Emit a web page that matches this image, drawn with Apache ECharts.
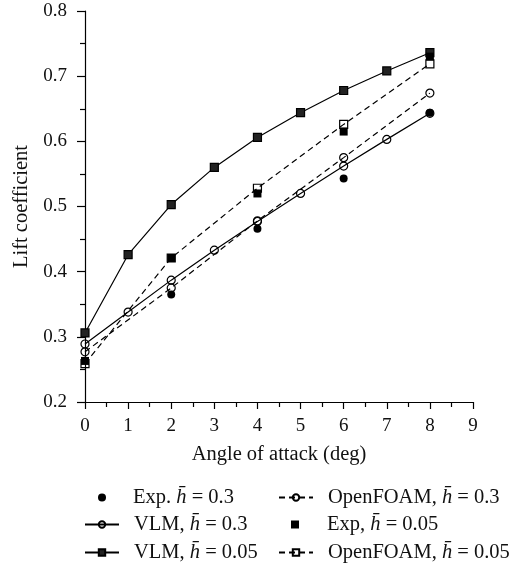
<!DOCTYPE html>
<html>
<head>
<meta charset="utf-8">
<script src="https://cdn.jsdelivr.net/npm/echarts@6/dist/echarts.min.js"></script>
<style>html,body{margin:0;padding:0;background:#fff}#c{width:525px;height:566px}</style>
</head>
<body>
<div id="c"></div>
<script>
// ---- data ----
var anglesAll = [0, 1, 2, 3, 4, 5, 6, 7, 8];
var anglesExp = [0, 2, 4, 6, 8];
var anglesExp03 = [2, 4, 6, 8];
var vlm03 = [0.289, 0.338, 0.387, 0.433, 0.477, 0.520, 0.562, 0.603, 0.643];
var vlm005 = [0.306, 0.426, 0.503, 0.560, 0.606, 0.644, 0.678, 0.708, 0.736];
var exp03 = [0.365, 0.466, 0.543, 0.644];
var exp005 = [0.263, 0.421, 0.520, 0.615, 0.730];
var of03 = [0.277, 0.375, 0.478, 0.575, 0.674];
var of005 = [0.259, 0.421, 0.528, 0.626, 0.719];
var xTicks = [0, 1, 2, 3, 4, 5, 6, 7, 8, 9];
var yTicks = [0.2, 0.3, 0.4, 0.5, 0.6, 0.7, 0.8];

var H = 'h\u0304';
var names = {
  exp03: 'Exp. ' + H + ' = 0.3',
  vlm03: 'VLM, ' + H + ' = 0.3',
  vlm005: 'VLM, ' + H + ' = 0.05',
  of03: 'OpenFOAM, ' + H + ' = 0.3',
  exp005: 'Exp, ' + H + ' = 0.05',
  of005: 'OpenFOAM, ' + H + ' = 0.05'
};
function pairs(xs, ys) { return xs.map(function (x, i) { return [x, ys[i]]; }); }

var FONT = 'Liberation Serif';
var chart = echarts.init(document.getElementById('c'), null, {renderer: 'canvas'});
var openStyle = {color: 'rgba(255,255,255,0)', borderColor: '#000', borderWidth: 1.2};

function legendItem(name, left, top, w, h, pad) {
  return {
    orient: 'horizontal', left: left, top: top, itemWidth: w, itemHeight: h,
    padding: 0, selectedMode: false,
    textStyle: {
      fontFamily: FONT, fontSize: 20.5, color: '#111', padding: [0, 0, 0, pad],
      rich: {
        t: {fontFamily: FONT, fontSize: 20.5, color: '#111'},
        i: {fontFamily: FONT, fontSize: 20.5, color: '#111', fontStyle: 'italic'}
      }
    },
    formatter: function (n) {
      var p = n.split(H);
      return '{t|' + p[0] + '}{i|' + H + '}{t|' + p[1] + '}';
    },
    data: [name]
  };
}
var rowTop = [487, 514, 542];

chart.setOption({
  animation: false,
  backgroundColor: '#fff',
  grid: {left: 85, top: 11, width: 388, height: 391, containLabel: false},
  xAxis: {
    type: 'value', min: 0, max: 9, interval: 1,
    name: 'Angle of attack (deg)', nameLocation: 'middle', nameGap: 42,
    nameTextStyle: {fontFamily: FONT, fontSize: 20.5, color: '#111'},
    axisLine: {show: true, onZero: false, lineStyle: {color: '#000', width: 1.2}},
    axisTick: {show: true, length: 7, lineStyle: {color: '#000', width: 1.2}},
    minorTick: {show: true, splitNumber: 2, length: 5, lineStyle: {color: '#000', width: 1.2}},
    splitLine: {show: false},
    axisLabel: {margin: 15, fontFamily: FONT, fontSize: 19, color: '#111',
      formatter: function (v) { return xTicks.indexOf(v) >= 0 ? String(v) : ''; }}
  },
  yAxis: {
    type: 'value', min: 0.2, max: 0.8, interval: 0.1,
    name: 'Lift coefficient', nameLocation: 'middle', nameGap: 48,
    nameTextStyle: {fontFamily: FONT, fontSize: 20.5, color: '#111'},
    axisLine: {show: true, onZero: false, lineStyle: {color: '#000', width: 1.2}},
    axisTick: {show: true, length: 8, lineStyle: {color: '#000', width: 1.2}},
    minorTick: {show: true, splitNumber: 2, length: 5, lineStyle: {color: '#000', width: 1.2}},
    splitLine: {show: false},
    axisLabel: {margin: 18, fontFamily: FONT, fontSize: 19, color: '#111',
      formatter: function (v) { return v.toFixed(1); }}
  },
  legend: [
    legendItem(names.exp03, 98, rowTop[0], 8, 8, 22),
    legendItem(names.vlm03, 84, rowTop[1], 34, 8, 10),
    legendItem(names.vlm005, 84, rowTop[2], 34, 8, 10),
    legendItem(names.of03, 278, rowTop[0], 34, 8, 10),
    legendItem(names.exp005, 291, rowTop[1], 8, 8, 23),
    legendItem(names.of005, 278, rowTop[2], 34, 8, 10)
  ],
  series: [
    {name: names.vlm005, type: 'line', data: pairs(anglesAll, vlm005), z: 3,
     symbol: 'rect', symbolSize: 8, lineStyle: {color: '#000', width: 1.2},
     itemStyle: {color: '#222', borderColor: '#000', borderWidth: 1.2}},
    {name: names.of005, type: 'line', data: pairs(anglesExp, of005), z: 3,
     symbol: 'rect', symbolSize: 8, lineStyle: {color: '#000', width: 1.2, type: [6, 4]},
     itemStyle: openStyle},
    {name: names.vlm03, type: 'line', data: pairs(anglesAll, vlm03), z: 3,
     symbol: 'circle', symbolSize: 8, lineStyle: {color: '#000', width: 1.2},
     itemStyle: openStyle},
    {name: names.of03, type: 'line', data: pairs(anglesExp, of03), z: 3,
     symbol: 'circle', symbolSize: 8, lineStyle: {color: '#000', width: 1.2, type: [6, 4]},
     itemStyle: openStyle},
    {name: names.exp005, type: 'scatter', data: pairs(anglesExp, exp005), z: 4,
     symbol: 'rect', symbolSize: 8, itemStyle: {color: '#000', opacity: 1}},
    {name: names.exp03, type: 'scatter', data: pairs(anglesExp03, exp03), z: 4,
     symbol: 'circle', symbolSize: 8, itemStyle: {color: '#000', opacity: 1}}
  ]
});
</script>
</body>
</html>
